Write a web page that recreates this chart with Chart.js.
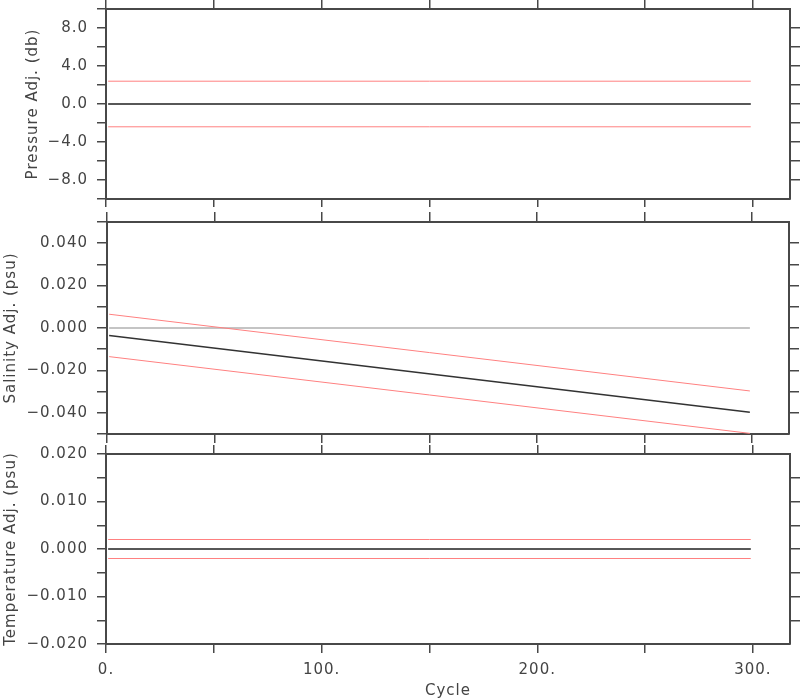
<!DOCTYPE html>
<html><head><meta charset="utf-8">
<script src="https://cdn.jsdelivr.net/npm/chart.js@4"></script>
<style>
html,body{margin:0;padding:0;background:#fff;}
#wrap{position:relative;width:800px;height:700px;background:#fff;}
canvas{position:absolute;left:0;top:0;}
</style></head><body>
<div id="wrap">
<canvas id="c1" width="800" height="700"></canvas>
<canvas id="c2" width="800" height="700"></canvas>
<canvas id="c3" width="800" height="700"></canvas>
</div>
<script>
// ---- data ----
const cycles = [1, 299];
const zeroLine = [0, 0];
const pressureAdj = [0, 0];
const pressureErrUpper = [2.4, 2.4];
const pressureErrLower = [-2.4, -2.4];
const salinityAdj = [-0.0035, -0.0397];
const salinityErrUpper = [0.0065, -0.0297];
const salinityErrLower = [-0.0135, -0.0497];
const temperatureAdj = [0, 0];
const temperatureErrUpper = [0.002, 0.002];
const temperatureErrLower = [-0.002, -0.002];

// ---- ticks ----
const xTicks = [0, 50, 100, 150, 200, 250, 300];
const xMajor = [0, 100, 200, 300];
const xMajorLabels = ['0.', '100.', '200.', '300.'];
const pressureTicks = [-10, -8, -6, -4, -2, 0, 2, 4, 6, 8, 10];
const pressureMajor = [-8, -4, 0, 4, 8];
const pressureMajorLabels = ['\u22128.0', '\u22124.0', '0.0', '4.0', '8.0'];
const salinityTicks = [-0.05, -0.04, -0.03, -0.02, -0.01, 0, 0.01, 0.02, 0.03, 0.04, 0.05];
const salinityMajor = [-0.04, -0.02, 0, 0.02, 0.04];
const salinityMajorLabels = ['\u22120.040', '\u22120.020', '0.000', '0.020', '0.040'];
const temperatureTicks = [-0.02, -0.015, -0.01, -0.005, 0, 0.005, 0.01, 0.015, 0.02];
const temperatureMajor = [-0.02, -0.01, 0, 0.01, 0.02];
const temperatureMajorLabels = ['\u22120.020', '\u22120.010', '0.000', '0.010', '0.020'];

const X_MAX = 317.2;
const AX = '#484848';
const TXT = '#444';
const FONT = {family: 'DejaVu Sans', size: 15};

function lookup(major, labels, v) {
  for (let i = 0; i < major.length; i++) if (Math.abs(major[i] - v) < 1e-9) return labels[i];
  return '';
}
function pts(arr) { return cycles.map((c, i) => ({x: c, y: arr[i]})); }
function grid(len) { return {display: true, drawOnChartArea: false, drawTicks: true, tickLength: len, color: AX, lineWidth: 1.5}; }
const border = {display: true, color: AX, width: 2};
function noPad(s) { s.paddingTop = 0; s.paddingBottom = 0; s.paddingLeft = 0; s.paddingRight = 0; }

const spacing = {id: 'spacing', beforeDraw(chart) { chart.ctx.letterSpacing = '1px'; }};

function makePanel(id, p) {
  const datasets = [
    {data: pts(p.adj), borderColor: '#333', borderWidth: 1.5},
    {data: pts(p.up), borderColor: '#ff8080', borderWidth: 1},
    {data: pts(p.lo), borderColor: '#ff8080', borderWidth: 1},
    {data: pts(zeroLine), borderColor: '#c4c4c4', borderWidth: 2}
  ].map(d => Object.assign(d, {pointRadius: 0, fill: false, tension: 0, xAxisID: 'x', yAxisID: 'y'}));
  const inner = p.yTicks.filter(v => v > p.yMin + 1e-9 && v < p.yMax - 1e-9);
  return new Chart(document.getElementById(id), {
    type: 'line',
    data: {datasets},
    plugins: [spacing],
    options: {
      responsive: false, animation: false, devicePixelRatio: 1,
      layout: {padding: {left: 0, right: 0, top: p.T - p.topTick, bottom: 700 - p.B - p.botH}},
      plugins: {legend: {display: false}, tooltip: {enabled: false}},
      scales: {
        x: {type: 'linear', position: 'bottom', min: 0, max: X_MAX, bounds: 'data',
            grid: grid(p.botTick), border,
            ticks: {autoSkip: false, maxRotation: 0, padding: 8, color: TXT, font: FONT,
                    callback: v => p.showX ? lookup(xMajor, xMajorLabels, v) : ''},
            title: {display: !!p.showX, text: 'Cycle', color: TXT, font: FONT, padding: {top: 0, bottom: 0}},
            afterBuildTicks: s => { s.ticks = xTicks.map(v => ({value: v})); },
            afterFit: s => { s.height = p.botH; noPad(s); }},
        x2: {type: 'linear', position: 'top', min: 0, max: X_MAX, bounds: 'data',
            grid: grid(p.topTick), border,
            ticks: {autoSkip: false, callback: () => ''},
            afterBuildTicks: s => { s.ticks = xTicks.map(v => ({value: v})); },
            afterFit: s => { s.height = p.topTick; noPad(s); }},
        y: {type: 'linear', position: 'left', min: p.yMin, max: p.yMax, bounds: 'data',
            grid: grid(p.yTick), border,
            ticks: {autoSkip: false, padding: 9, color: TXT, font: FONT,
                    callback: v => lookup(p.major, p.labels, v)},
            title: {display: true, text: p.title, color: TXT, font: FONT, padding: {top: p.titleX - 9, bottom: 0}},
            afterBuildTicks: s => { s.ticks = p.yTicks.map(v => ({value: v})); },
            afterFit: s => { s.width = p.L; noPad(s); }},
        y2: {type: 'linear', position: 'right', min: p.yMin, max: p.yMax, bounds: 'data',
            grid: grid(10), border,
            ticks: {autoSkip: false, callback: () => ''},
            afterBuildTicks: s => { s.ticks = inner.map(v => ({value: v})); },
            afterFit: s => { s.width = 800 - p.R; noPad(s); }}
      }
    }
  });
}

makePanel('c1', {L: 106, R: 790, T: 9, B: 199, topTick: 9, botTick: 8, botH: 8, yTick: 9,
  yMin: -10, yMax: 10, yTicks: pressureTicks, major: pressureMajor, labels: pressureMajorLabels,
  title: 'Pressure Adj. (db)', titleX: 33,
  adj: pressureAdj, up: pressureErrUpper, lo: pressureErrLower});
makePanel('c2', {L: 107, R: 789, T: 222, B: 434, topTick: 10, botTick: 9, botH: 9, yTick: 10,
  yMin: -0.05, yMax: 0.05, yTicks: salinityTicks, major: salinityMajor, labels: salinityMajorLabels,
  title: 'Salinity Adj. (psu)', titleX: 11,
  adj: salinityAdj, up: salinityErrUpper, lo: salinityErrLower});
makePanel('c3', {L: 106, R: 790, T: 454, B: 644, topTick: 9, botTick: 9, botH: 56, yTick: 9, showX: true,
  yMin: -0.02, yMax: 0.02, yTicks: temperatureTicks, major: temperatureMajor, labels: temperatureMajorLabels,
  title: 'Temperature Adj. (psu)', titleX: 11,
  adj: temperatureAdj, up: temperatureErrUpper, lo: temperatureErrLower});
</script>
</body></html>
